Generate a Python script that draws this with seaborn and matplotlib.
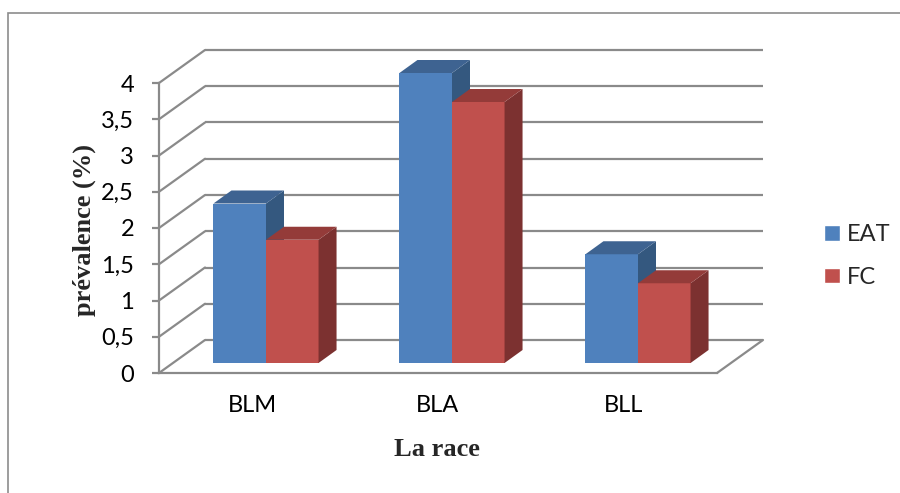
import matplotlib
matplotlib.use("Agg")
import matplotlib.pyplot as plt
from matplotlib.patches import Polygon, ConnectionPatch, Rectangle
import pandas as pd
import seaborn as sns

# données
races = ["BLM", "BLA", "BLL"]
eat = [2.2, 4.0, 1.5]
fc = [1.7, 3.6, 1.1]
series = ["EAT", "FC"]
yticks = [0, 0.5, 1, 1.5, 2, 2.5, 3, 3.5, 4]
ytick_labels = ["0", "0,5", "1", "1,5", "2", "2,5", "3", "3,5", "4"]

front_col = {"EAT": "#4F81BD", "FC": "#C0504D"}
top_col = {"EAT": "#3E6391", "FC": "#943B39"}
side_col = {"EAT": "#34587F", "FC": "#7C3130"}
grid_col = "#8a8a8a"

df = pd.DataFrame({
    "race": races * 2,
    "serie": ["EAT"] * len(races) + ["FC"] * len(races),
    "val": eat + fc,
})

sns.set_style("white")
plt.rcParams["font.family"] = ["Lato", "DejaVu Sans"]

W, H = 900, 493
PW, PH = 558, 290  # taille du plan (px)
fig = plt.figure(figsize=(W / 100, H / 100), dpi=100)


def box(left, zero_y):
    return [left / W, (H - zero_y) / H, PW / W, PH / H]


ax_back = fig.add_axes(box(205, 340))   # mur du fond
ax = fig.add_axes(box(173, 363))        # plan des barres
ax_front = fig.add_axes(box(159, 373))  # plan avant (axes)

# barres
sns.barplot(data=df, x="race", y="val", hue="serie", palette=front_col,
            width=0.565, saturation=1, ax=ax, zorder=2)
handles, labels = ax.get_legend_handles_labels()
ax.get_legend().remove()

for a in (ax_back, ax, ax_front):
    a.set_xlim(-0.5, 2.5)
    a.set_ylim(0, 4)
    a.patch.set_visible(False)
    for s in a.spines.values():
        s.set_visible(False)
    a.set_xlabel("")
    a.set_ylabel("")
ax.set_xticks([])
ax.set_yticks([])
ax_back.set_xticks([])
ax_back.set_yticks([])

# effet 3D
ddx = 18 / (PW / 3)
ddy = 13 / (PH / 4)
for i, (cont, name) in enumerate(zip(ax.containers, series)):
    z = 2 + i
    for p in cont.patches:
        x0, w, h = p.get_x(), p.get_width(), p.get_height()
        p.set_zorder(z)
        p.set_edgecolor("none")
        top = Polygon([(x0, h), (x0 + w, h), (x0 + w + ddx, h + ddy), (x0 + ddx, h + ddy)],
                      closed=True, fc=top_col[name], ec="none", zorder=z + 0.5, clip_on=False)
        side = Polygon([(x0 + w, 0), (x0 + w + ddx, ddy), (x0 + w + ddx, h + ddy), (x0 + w, h)],
                       closed=True, fc=side_col[name], ec="none", zorder=z + 0.5, clip_on=False)
        ax.add_patch(side)
        ax.add_patch(top)

# grille du fond
ax_back.hlines(yticks, -0.5, 2.5, color=grid_col, lw=1.6, clip_on=False)

# diagonales du mur gauche et du sol
for y in yticks:
    fig.add_artist(ConnectionPatch(xyA=(-0.5, y), coordsA=ax_front.transData,
                                   xyB=(-0.5, y), coordsB=ax_back.transData,
                                   color=grid_col, lw=1.6))
fig.add_artist(ConnectionPatch(xyA=(2.5, 0), coordsA=ax_front.transData,
                               xyB=(2.5, 0), coordsB=ax_back.transData,
                               color=grid_col, lw=1.6))

# axe avant
ax_front.spines["left"].set_visible(True)
ax_front.spines["bottom"].set_visible(True)
for s in ("left", "bottom"):
    ax_front.spines[s].set_color(grid_col)
    ax_front.spines[s].set_linewidth(1.6)
    ax_front.spines[s].set_clip_on(False)
ax_front.set_yticks(yticks, ytick_labels)
ax_front.set_xticks(range(len(races)), races)
ax_front.tick_params(axis="y", left=True, length=5, width=1.6, color=grid_col,
                     pad=13, labelsize=17, labelcolor="black")
ax_front.tick_params(axis="x", bottom=False, length=0, pad=16,
                     labelsize=17, labelcolor="black")

# titres des axes
fig.text(437 / W, 1 - 449 / H, "La race", ha="center", va="center",
         fontsize=19, fontweight="bold", family="Liberation Serif")
fig.text(84 / W, 1 - 230 / H, "prévalence (%)", ha="center", va="center",
         rotation=90, fontsize=19, fontweight="bold", family="Liberation Serif")

# légende
fig.legend(handles, labels, loc="center left", bbox_to_anchor=(815 / W, 1 - 256 / H),
           frameon=False, fontsize=17, handlelength=0.64, handleheight=0.64,
           handletextpad=0.3, labelspacing=0.9, borderaxespad=0)

# cadre extérieur
fig.add_artist(Rectangle((8 / W, -0.5), 2, 1 - 13 / H + 0.5, transform=fig.transFigure,
                         fill=False, ec="#8c8c8c", lw=1.2, clip_on=False))

fig.savefig("out.png", dpi=100)
